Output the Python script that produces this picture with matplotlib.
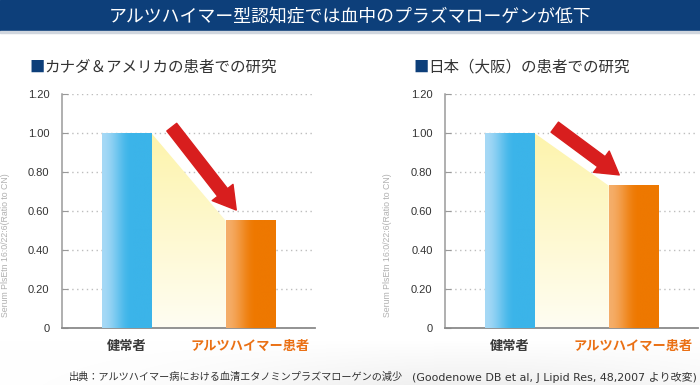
import numpy as np
import matplotlib.pyplot as plt
from matplotlib.patches import Rectangle, Polygon
from matplotlib.colors import to_rgb

# Daten
title = 'アルツハイマー型認知症では血中のプラズマローゲンが低下'
subtitles = ['カナダ＆アメリカの患者での研究', '日本（大阪）の患者での研究']
categories = ['健常者', 'アルツハイマー患者']
canada_values = [1.00, 0.55]
osaka_values = [1.00, 0.73]
ytick_values = [0, 0.2, 0.4, 0.6, 0.8, 1.0, 1.2]
ytick_labels = ['0', '0.20', '0.40', '0.60', '0.80', '1.00', '1.20']
ylabel = 'Serum PlsEtn 16:0/22:6(Ratio to CN)'
source_main = '出典：アルツハイマー病における血清エタノミンプラズマローゲンの減少'
source_ref = '(Goodenowe DB et al, J Lipid Res, 48,2007 より改変)'

JP = ['Noto Sans CJK JP', 'DejaVu Sans']
NAVY = '#0d3f7a'

W, H = 700, 385
fig = plt.figure(figsize=(7, 3.85), dpi=100)


def grad_h(c1, c2, stop=0.6, n=256):
    # Verlauf links hell -> rechts kräftig, ab "stop" einfarbig
    a, b = np.array(to_rgb(c1)), np.array(to_rgb(c2))
    t = np.clip(np.linspace(0, 1, n) / stop, 0, 1)
    t = (3 * t ** 2 - 2 * t ** 3)[:, None]
    return (a + (b - a) * t)[None, :, :]


def grad_v(c_top, c_bot, n=256):
    a, b = np.array(to_rgb(c_top)), np.array(to_rgb(c_bot))
    t = np.linspace(0, 1, n)[:, None]
    return (a + (b - a) * t)[:, None, :]


# leichter Schatten unten
bg = fig.add_axes([0, 0, 1, 50 / H], zorder=-5)
yy, xx = np.mgrid[0:50, 0:700]
shade = np.exp(-((xx - 470) / 260.0) ** 2) * np.clip((yy - 5) / 45.0, 0, 1)
img = np.ones((50, 700, 3)) - 0.06 * shade[:, :, None]
bg.imshow(img, extent=[0, 1, 0, 1], aspect='auto')
bg.axis('off')

# Kopfzeile
fig.patches.append(Rectangle((0, 1 - 31 / H), 1, 31 / H, transform=fig.transFigure,
                             color=NAVY, zorder=1))
fig.patches.append(Rectangle((0, 1 - 33 / H), 1, 2 / H, transform=fig.transFigure,
                             color='#d0d6de', zorder=1))
fig.text(0.5, 1 - 16 / H, title, color='white', fontsize=12.9, family=JP,
         ha='center', va='center')

xs = np.arange(len(categories))
bw = 0.4

panels = [(62, 29, subtitles[0], canada_values, 6),
          (445, 413, subtitles[1], osaka_values, 387)]

for ax_left, sub_x, sub, vals, ylab_x in panels:
    ax = fig.add_axes([ax_left / W, 57 / H, 253 / W, 234 / H])

    # Untertitel
    fig.text(sub_x / W, 1 - 67 / H, '■', color=NAVY, fontsize=11, family=JP,
             ha='left', va='center')
    fig.text((sub_x + 15) / W, 1 - 67 / H, sub, color='#333333', fontsize=11.2,
             family=JP, ha='left', va='center')
    fig.text(ylab_x / W, 1 - 245 / H, ylabel, rotation=90, fontsize=6.3,
             color='#b0b0b0', ha='center', va='center', family='Liberation Sans')

    # gelbe Fläche zwischen den Balken
    xa, xb = xs[0] + bw / 2, xs[1] - bw / 2
    poly = Polygon([(xa, vals[0]), (xb, vals[1]), (xb, 0), (xa, 0)],
                   closed=True, facecolor='none', edgecolor='none')
    ax.add_patch(poly)
    im = ax.imshow(grad_v('#fdf4ac', '#fffdf2'), extent=[xa, xb, 0, vals[0]],
                   aspect='auto', zorder=2, interpolation='bilinear')
    im.set_clip_path(poly)

    # Balken mit Verlauf
    colors = [('#a6d9f6', '#3bb4e9'), ('#f5ae6a', '#ee7800')]
    for x, v, (c1, c2) in zip(xs, vals, colors):
        ax.imshow(grad_h(c1, c2), extent=[x - bw / 2, x + bw / 2, 0, v], aspect='auto',
                  zorder=3, interpolation='bilinear')

    # roter Pfeil
    ax.annotate('', xy=(xs[1] - 0.115, vals[1] + 0.055), xytext=(xs[0] + 0.365, 1.03),
                arrowprops=dict(arrowstyle='simple,head_length=0.8,head_width=0.95,tail_width=0.45',
                                color='#d81e1e', mutation_scale=20, shrinkA=0, shrinkB=0),
                zorder=5)

    ax.set_xlim(-0.52, 1.52)
    ax.set_ylim(0, 1.2)
    ax.set_yticks(ytick_values)
    ax.set_yticklabels(ytick_labels, family='Liberation Sans', fontsize=8, color='#333333')
    ax.tick_params(axis='y', direction='in', length=4, color='#999999', pad=9)
    ax.set_xticks(xs)
    ax.set_xticklabels(categories, family=JP, fontsize=9.5, fontweight='bold')
    ax.tick_params(axis='x', length=0, pad=8)
    ax.get_xticklabels()[0].set_color('#3a3a3a')
    ax.get_xticklabels()[1].set_color('#ea7014')
    ax.grid(axis='y', linestyle=(0, (1, 2.5)), color='#bdbdbd', linewidth=1)
    ax.set_axisbelow(True)
    for s in ['top', 'right']:
        ax.spines[s].set_visible(False)
    ax.spines['left'].set_color('#9a9a9a')
    ax.spines['bottom'].set_color('#8a8a8a')
    ax.spines['left'].set_linewidth(1.1)
    ax.spines['bottom'].set_linewidth(1.3)
    ax.patch.set_alpha(0)

fig.text(69 / W, 1 - 377 / H, source_main, fontsize=7.3, color='#333333',
         family=JP, ha='left', va='center')
fig.text(697 / W, 1 - 377 / H, source_ref, fontsize=7.9, color='#333333',
         family=['DejaVu Sans', 'Noto Sans CJK JP'], ha='right', va='center')

plt.savefig('out.png', dpi=100)
